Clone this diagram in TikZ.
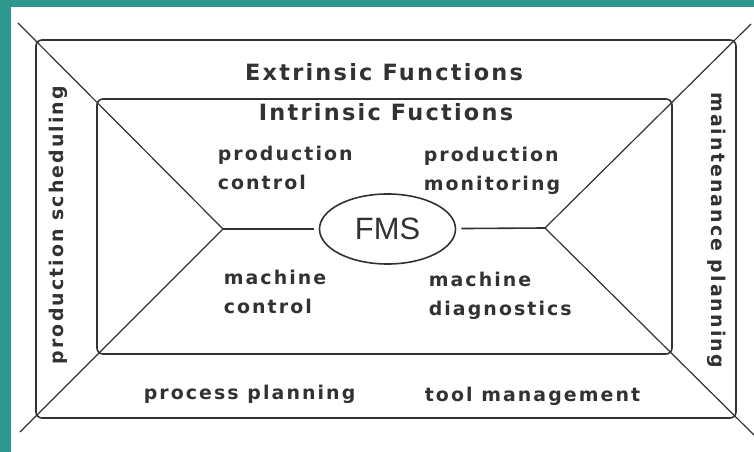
\documentclass[tikz,border=0pt]{standalone}
\usepackage{fontspec}
\setmainfont{DejaVu Sans}
\newfontfamily\fmsfont{Liberation Sans}
\usetikzlibrary{shapes}
\definecolor{t}{RGB}{46,152,143}
\definecolor{k}{RGB}{50,50,50}
\tikzstyle{func}=[inner sep=0pt,align=left,text=k,font=\fontsize{19}{29}\selectfont\bfseries\addfontfeature{LetterSpace=11}]
\tikzstyle{head}=[inner sep=0pt,text=k,font=\fontsize{22.5}{26}\selectfont\bfseries\addfontfeature{LetterSpace=10}]
\tikzstyle{box}=[draw=k,rounded corners=6bp]

\begin{document}
\begin{tikzpicture}[x=1bp,y=-1bp,line width=1.6bp]
	\fill[t] (0,0) rectangle (754,452);
	\fill[white] (11,7) rectangle (754,452);
	\useasboundingbox (0,0) rectangle (754,452);
	\draw[box] (36,40) rectangle (736,418);
	\draw[box] (97,99) rectangle (672,354);
	\node[ellipse,draw=k,minimum width=136bp,minimum height=70bp,inner sep=0pt,text=k,font=\fmsfont\fontsize{31}{31}\selectfont] (fms) at (387.5,229) {FMS};
	\coordinate (jl) at (223,229);
	\coordinate (jr) at (545,228);
	\coordinate (tl) at (18,23);
	\coordinate (bl) at (20,432);
	\coordinate (tr) at (751,24);
	\coordinate (br) at (754,435);
	\node[head,anchor=base] (ext) at (384,81) {Extrinsic Functions};
	\node[head,anchor=base] (intr) at (386,121) {Intrinsic Fuctions};
	\node[func,anchor=west] (pc) at (217,167.5) {production\\control};
	\node[func,anchor=west] (pm) at (423,170.5) {production\\monitoring};
	\node[func,anchor=west] (mc) at (223,291.5) {machine\\control};
	\node[func,anchor=west] (md) at (428,296) {machine\\diagnostics};
	\node[func,anchor=base west] (pp) at (143,399) {process planning};
	\node[func,anchor=base west] (tm) at (424,401) {tool management};
	\node[func,rotate=90] (ps) at (58,225) {production scheduling};
	\node[func,rotate=-90] (mp) at (717,230) {maintenance planning};
	\path[draw=k,line width=1.2bp]
		(tl)	--	(jl)	--	(bl)
		(tr)	--	(jr)	--	(br);
	\draw[k,shorten >=5bp] (jl) -- (fms);
	\draw[k,shorten >=5bp] (jr) -- (fms);
\end{tikzpicture}
\end{document}
